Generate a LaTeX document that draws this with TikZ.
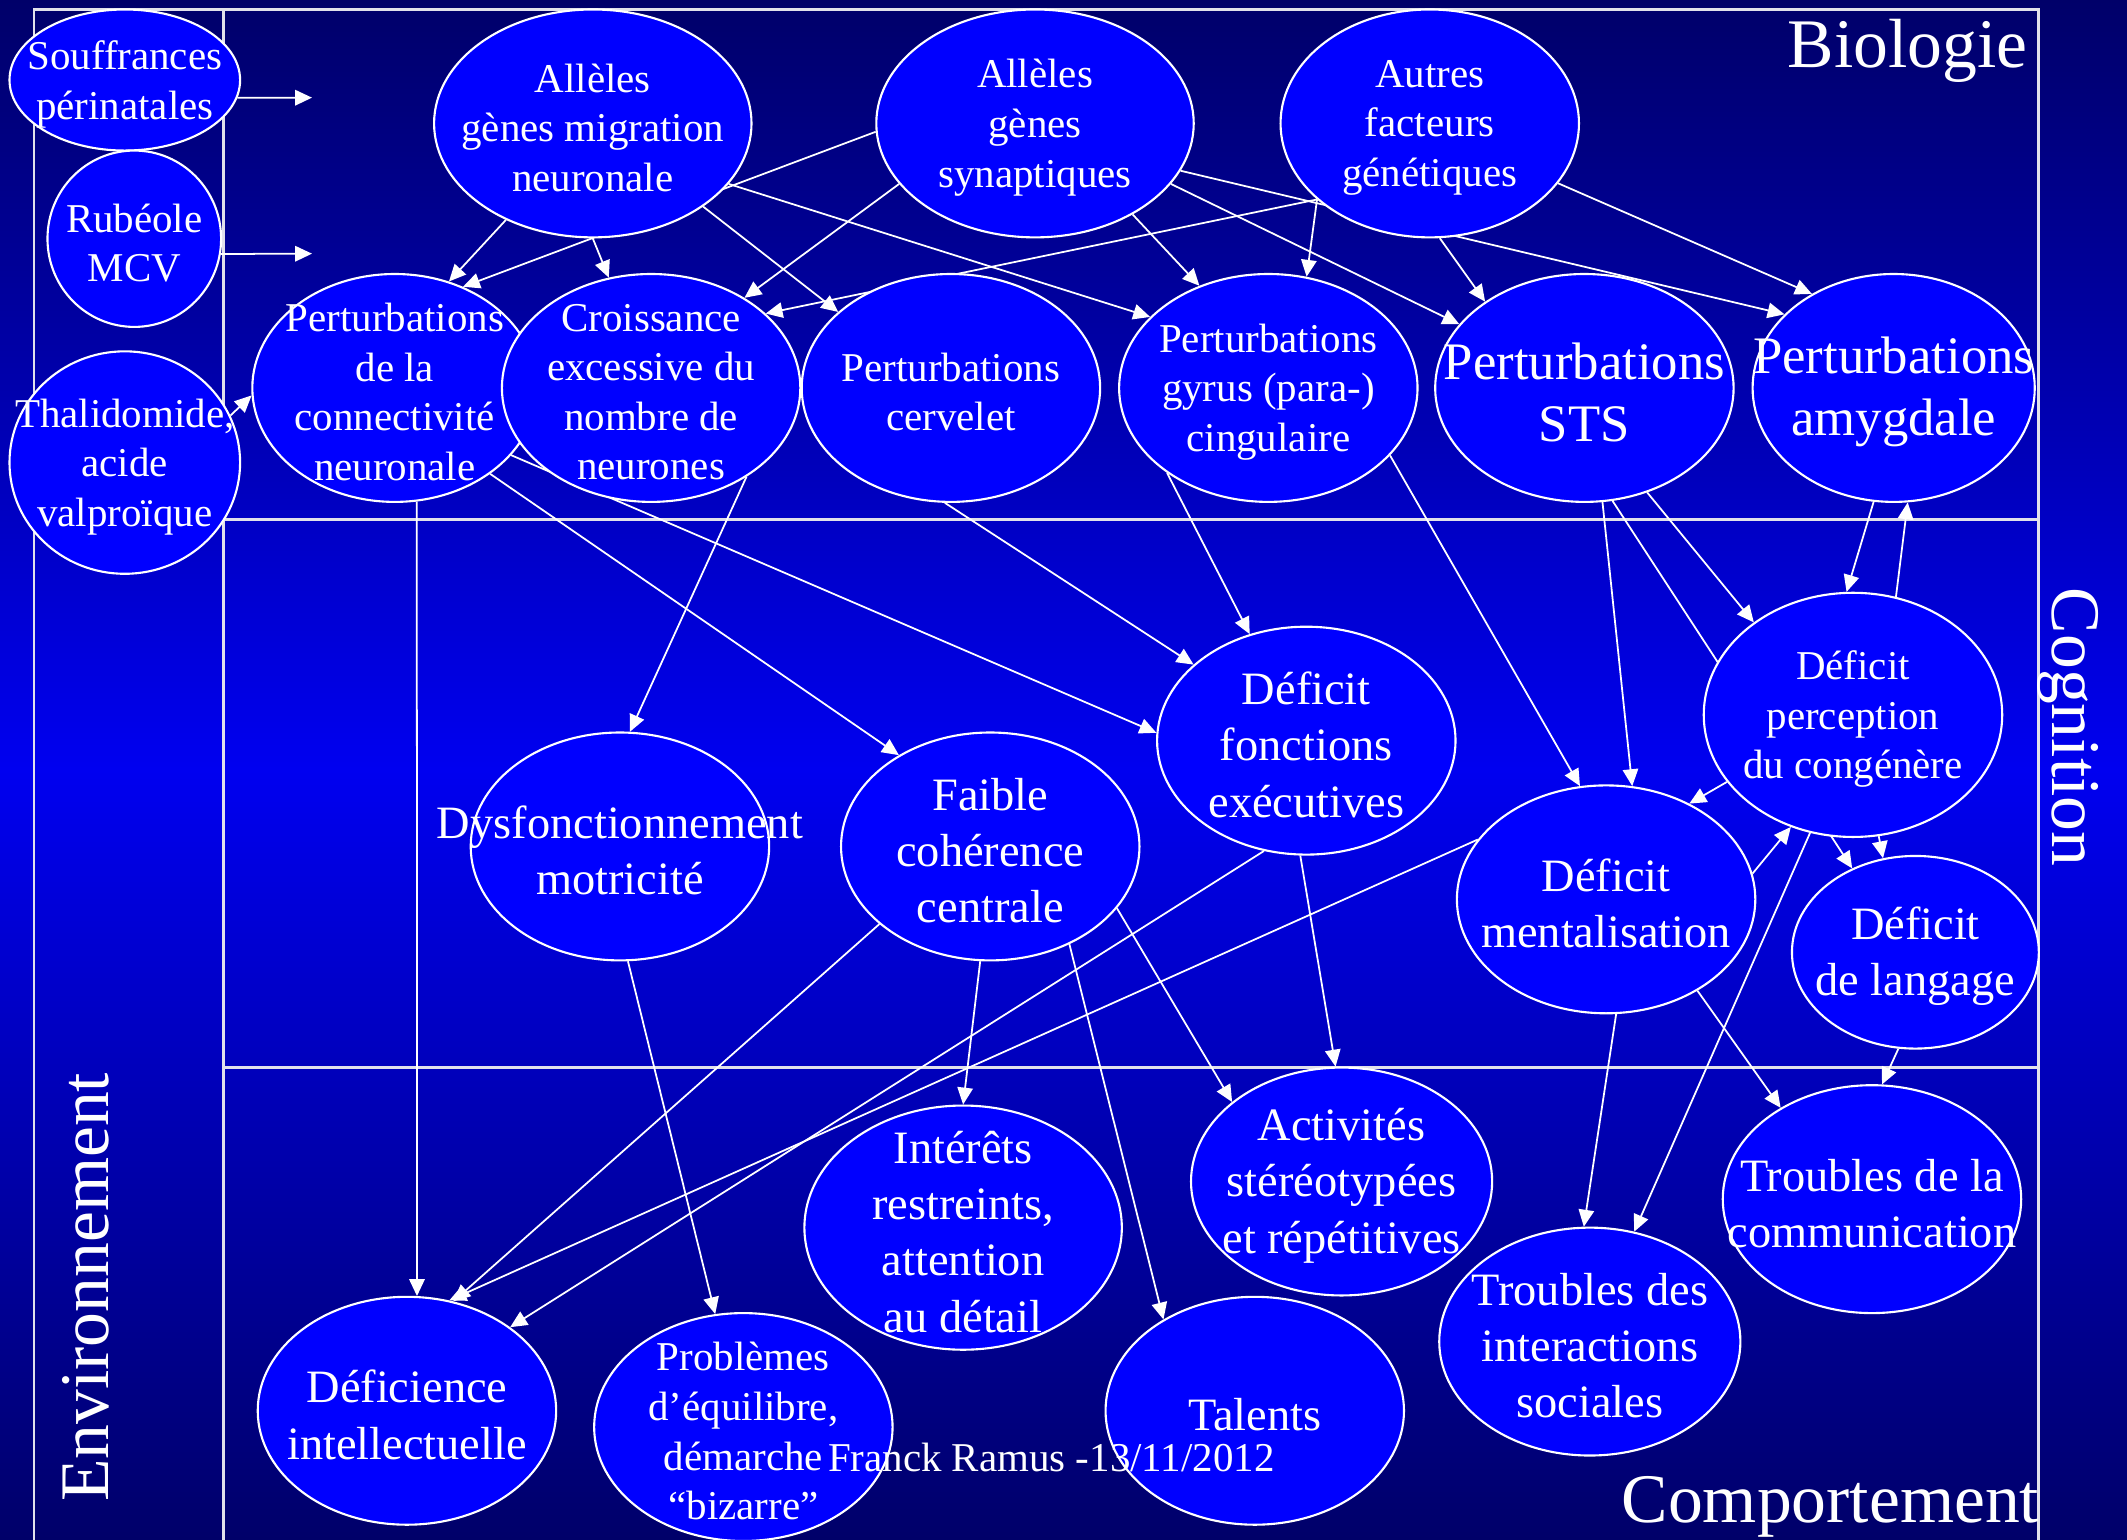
\documentclass[tikz,border=0pt]{standalone}
\usepackage{fontspec}
\setmainfont{Liberation Serif}
\usetikzlibrary{shapes.geometric,arrows.meta}
\pgfdeclarelayer{bg}
\pgfdeclarelayer{edges}
\pgfsetlayers{bg,edges,main}
\newcommand{\pxu}{0.013565cm}
\definecolor{bgdark}{RGB}{0,0,105}
\definecolor{bgmid}{RGB}{0,0,240}
\definecolor{ellblue}{RGB}{0,0,255}
\definecolor{framegray}{RGB}{225,225,235}
\tikzset{
  bub/.style 2 args={ellipse, draw=white, line width=0.6pt, fill=ellblue, inner sep=0pt, minimum width=#1*\pxu, minimum height=#2*\pxu},
  sm/.style={text=white, align=center, yshift=-1.2pt, font=\fontsize{11.65}{14.1}\selectfont},
  lg/.style={text=white, align=center, yshift=-1.2pt, font=\fontsize{13.2}{16}\selectfont},
  xl/.style={text=white, align=center, yshift=-1.2pt, font=\fontsize{15}{17.7}\selectfont},
  big/.style={text=white, inner sep=0pt, font=\fontsize{19.8}{24}\selectfont},
  arr/.style={white, line width=0.5pt, -{Triangle[length=4.8pt,width=4.4pt]}},
  frame/.style={framegray, line width=0.8pt}
}
\begin{document}
\begin{tikzpicture}[x=\pxu, y=-\pxu, line join=round, line cap=round]
	\useasboundingbox (0,0) rectangle (1568,1135);
	\begin{pgfonlayer}{bg}
	\shade[top color=bgdark, bottom color=bgdark, middle color=bgmid] (0,0) rectangle (1568,1135);
	\end{pgfonlayer}
	% environnement
	\node[bub={170}{104}, label={[sm]center:{Souffrances\\périnatales}}] (souf) at (92,59) {};
	\node[bub={128}{130}, label={[sm]center:{Rubéole\\MCV}}] (rub) at (99,176) {};
	\node[bub={170}{164}, label={[sm]center:{Thalidomide,\\acide\\valproïque}}] (thal) at (92,341) {};
	\coordinate (souf-to) at (230,72);
	\coordinate (rub-to) at (230,187);
	% biologie
	\node[bub={234}{168}, label={[sm]center:{Allèles\\gènes migration\\neuronale}}] (alm) at (437,91) {};
	\node[bub={234}{168}, label={[sm]center:{Allèles\\gènes\\synaptiques}}] (als) at (763,91) {};
	\node[bub={220}{168}, label={[sm]center:{Autres\\facteurs\\génétiques}}] (aut) at (1054,91) {};
	\node[bub={210}{168}, label={[sm]center:{Perturbations\\de la\\connectivité\\neuronale}}] (pcn) at (291,286) {};
	\node[bub={220}{168}, label={[sm]center:{Croissance\\excessive du\\nombre de\\neurones}}] (cro) at (480,286) {};
	\node[bub={220}{168}, label={[sm]center:{Perturbations\\cervelet}}] (pce) at (701,286) {};
	\node[bub={220}{168}, label={[sm]center:{Perturbations\\gyrus (para-)\\cingulaire}}] (pgy) at (935,286) {};
	\node[bub={220}{168}, label={[xl]center:{Perturbations\\STS}}] (sts) at (1168,286) {};
	\node[bub={208}{168}, label={[xl]center:{Perturbations\\amygdale}}] (amy) at (1396,286) {};
	% cognition
	\node[bub={220}{168}, label={[lg]center:{Déficit\\fonctions\\exécutives}}] (dfe) at (963,546) {};
	\node[bub={220}{168}, label={[lg]center:{Dysfonctionnement\\motricité}}] (dys) at (457,624) {};
	\node[bub={220}{168}, label={[lg]center:{Faible\\cohérence\\centrale}}] (fcc) at (730,624) {};
	\node[bub={220}{180}, label={[sm]center:{Déficit\\perception\\du congénère}}] (dpc) at (1366,527) {};
	\node[bub={220}{168}, label={[lg]center:{Déficit\\mentalisation}}] (men) at (1184,663) {};
	\node[bub={182}{142}, label={[lg]center:{Déficit\\de langage}}] (lan) at (1412,702) {};
	% comportement
	\node[bub={234}{180}, label={[lg]center:{Intérêts\\restreints,\\attention\\au détail}}] (int) at (710,905) {};
	\node[bub={222}{168}, label={[lg]center:{Activités\\stéréotypées\\et répétitives}}] (act) at (989,871) {};
	\node[bub={220}{168}, label={[lg]center:{Troubles de la\\communication}}] (tco) at (1380,884) {};
	\node[bub={222}{168}, label={[lg]center:{Troubles des\\interactions\\sociales}}] (tis) at (1172,989) {};
	\node[bub={220}{168}, label={[lg]center:{Déficience\\intellectuelle}}] (dei) at (300,1040) {};
	\node[bub={220}{168}, label={[sm]center:{Problèmes\\d’équilibre,\\démarche\\“bizarre”}}] (pro) at (548,1052) {};
	\node[bub={220}{168}, label={[lg]center:{Talents}}] (tal) at (925,1040) {};
	\begin{pgfonlayer}{edges}
	\draw[frame] (25,1135) -- (25,7) -- (1503,7) -- (1503,1135);
	\draw[frame] (165,7) -- (165,1135);
	\draw[frame] (165,383) -- (1503,383);
	\draw[frame] (165,787) -- (1503,787);
	\draw[arr] (souf.-9) -- (souf-to);
	\draw[arr] (rub.-10) -- (rub-to);
	\foreach \a/\b in {thal.24/pcn.183, alm.228/pcn.63, als.183/pcn.56, alm.-90/cro.111,
		alm.-37/pce.146, alm.-24/pgy.149, als.204/cro.44, aut.214/cro.33, aut.214/pgy.71,
		als.-18/amy.146, als.-24/sts.153, als.-43/pgy.124, aut.-25/amy.131, aut.-85/sts.139,
		pcn.-79/dei.85, pcn.-42/fcc.135, pcn.-30/dfe.177, cro.-43/dys.85, pce.-93/dfe.146,
		pgy.-140/dfe.118, pgy.-29/men.103, sts.-81/men.77, sts.-76/lan.127, sts.-59/dpc.137,
		amy.-100/dpc.93, dpc.70/amy.-83, dpc.208/men.49, men.10/dpc.241, dpc.-78/lan.109,
		fcc.215/dei.67, men.155/dei.69, dfe.249/dei.39, fcc.-95/int.90, fcc.-51/tal.135,
		fcc.-26/act.144, dfe.-93/act.93, dys.-86/pro.104, dpc.-110/tis.68, men.-45/tco.135,
		men.-85/tis.93, lan.-100/tco.85}
	\draw[arr] (\a) -- (\b);
	\end{pgfonlayer}
	\node[big, anchor=base east] (bio) at (1495,50) {Biologie};
	\node[big, rotate=-90, anchor=base] (cog) at (1513,536) {Cognition};
	\node[big, rotate=90, anchor=base] (env) at (80,949) {Environnement};
	\node[big, anchor=base west] (comp) at (1195,1122) {Comportement};
	\node[sm, anchor=base] (auth) at (775,1082) {Franck Ramus -13/11/2012};
\end{tikzpicture}
\end{document}
